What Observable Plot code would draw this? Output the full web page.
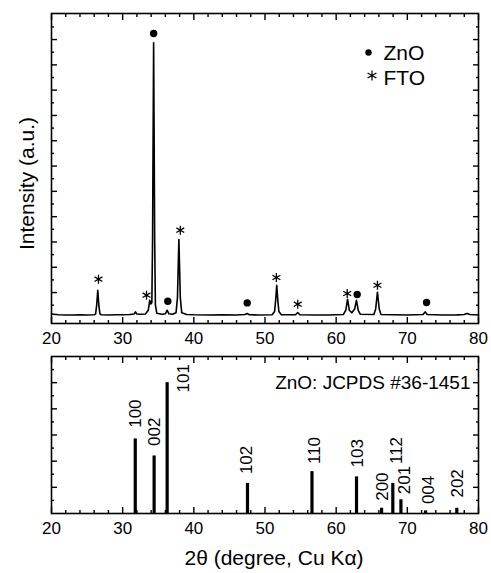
<!DOCTYPE html>
<html><head><meta charset="utf-8">
<script src="https://cdn.jsdelivr.net/npm/d3@7"></script>
<script src="https://cdn.jsdelivr.net/npm/@observablehq/plot@0.6"></script>
<style>
body{margin:0;background:#fff;}
#chart{width:491px;height:573px;}
#chart svg{display:block;}
</style></head><body><div id="chart"></div>
<script>
// ---- XRD pattern (top panel) ----
const twoTheta = [20,21,22,23,24,25,26,26.2,26.35,26.5,26.65,26.8,27,28,29,30,31,31.6,31.8,32.0,32.5,33.2,33.6,33.8,33.95,34.1,34.2,34.35,34.5,34.6,34.8,35.5,36.0,36.25,36.5,37.0,37.5,37.7,37.9,38.1,38.3,39,40,42,44,46,47.2,47.5,47.8,49,51,51.35,51.5,51.65,51.8,51.95,52.3,54.3,54.6,54.9,57,59,61,61.35,61.6,61.85,62.2,62.6,62.85,63.1,63.4,65.3,65.55,65.8,66.05,66.3,68,70,72.2,72.5,72.8,75,77,78.0,78.4,78.8,80];
const counts   = [150,125,115,110,118,112,120,160,500,1093,500,160,125,115,120,125,130,150,235,150,140,150,300,698,550,600,3000,10869,3000,500,180,140,160,302,160,140,200,800,3097,800,200,130,120,115,118,115,130,172,125,115,120,250,700,1291,700,250,120,120,211,120,115,115,130,300,737,300,200,350,698,300,140,130,350,1014,350,130,120,115,130,235,130,115,118,130,172,130,110];

// peak markers
const znoMarkX = [34.35,36.34,47.5,62.95,72.7];
const znoMarkY = [11240,658,591,923,607];
const ftoMarkX = [26.6,33.35,38.1,51.6,54.6,61.55,65.8];
const ftoMarkY = [1528,895,3465,1595,540,962,1290];

// ---- ZnO JCPDS #36-1451 reference lines (bottom panel) ----
const hkl       = ["100","002","101","102","110","103","200","112","201","004","202"];
const refPos    = [31.77,34.42,36.25,47.54,56.60,62.86,66.38,67.96,69.10,72.56,76.95];
const refInt    = [57,44,100,23,32,28,4,23,10.5,2,4];
const labelPosX = [31.77,34.42,38.6,47.45,57.0,62.95,66.45,68.55,69.6,73.05,77.0];
const labelPosY = [65.5,51.6,92.5,30.1,37.8,35.2,9.7,37.8,14.8,7.2,12.2];

// ---- axes ----
const xMajor = [20,30,40,50,60,70,80];
const xLabels = ["20","30","40","50","60","70","80"];
const xMinor = [22,24,26,28,32,34,36,38,42,44,46,48,52,54,56,58,62,64,66,68,72,74,76,78];
const yTopMajor = [1000,2000,3000,4000,5000,6000,7000,8000,9000,10000,11000];
const yTopMinor = [500,1500,2500,3500,4500,5500,6500,7500,8500,9500,10500,11500];
const yBotMajor = [20,40,60,80,100];
const yBotMinor = [10,30,50,70,90,110];

const font = '"Liberation Sans", Arial, Helvetica, sans-serif';
const W = 491;

const trace = twoTheta.map((t, i) => ({t, c: counts[i]}));
const zno = znoMarkX.map((x, i) => ({x, y: znoMarkY[i]}));
const fto = ftoMarkX.map((x, i) => ({x, y: ftoMarkY[i]}));
const refs = hkl.map((h, i) => ({h, x: refPos[i], y: refInt[i], lx: labelPosX[i], ly: labelPosY[i]}));

// inward ticks: draw outward-pointing ticks, shifted back inside by their length
function inTicks(axis, anchor, ticks, len) {
  const shift = anchor === "bottom" ? {dy: -len} : anchor === "top" ? {dy: len}
              : anchor === "left" ? {dx: len} : {dx: -len};
  return axis({anchor, ticks, tickSize: len, fill: "none", label: null, strokeWidth: 1.4, ...shift});
}

function tickMarks(xMaj, xMin, yMaj, yMin) {
  return [
    inTicks(Plot.axisX, "bottom", xMaj, 6),
    inTicks(Plot.axisX, "bottom", xMin, 3),
    inTicks(Plot.axisX, "top", xMaj, 6),
    inTicks(Plot.axisX, "top", xMin, 3),
    inTicks(Plot.axisY, "left", yMaj, 6),
    inTicks(Plot.axisY, "left", yMin, 3),
    inTicks(Plot.axisY, "right", yMaj, 6),
    inTicks(Plot.axisY, "right", yMin, 3),
    Plot.axisX({anchor: "bottom", ticks: xMaj, tickFormat: (d) => xLabels[xMaj.indexOf(d)], tickSize: 0, tickPadding: 8, fontSize: 17, label: null, fill: "black"}),
    Plot.frame({stroke: "black", strokeWidth: 1.6})
  ];
}

const topPlot = Plot.plot({
  width: W, height: 350,
  marginLeft: 51, marginRight: 13, marginTop: 13, marginBottom: 27,
  style: {fontFamily: font, background: "white", color: "black", overflow: "visible"},
  x: {domain: [20, 80]},
  y: {domain: [-223, 12030]},
  marks: [
    ...tickMarks(xMajor, xMinor, yTopMajor, yTopMinor),
    Plot.line(trace, {x: "t", y: "c", stroke: "black", strokeWidth: 1.6}),
    Plot.dot(zno, {x: "x", y: "y", r: 3.7, fill: "black"}),
    Plot.dot(fto, {x: "x", y: "y", r: 4.3, symbol: "asterisk", stroke: "black", strokeWidth: 1.3}),
    Plot.dot([0], {frameAnchor: "top-right", dx: -110, dy: 39, r: 3.2, fill: "black"}),
    Plot.dot([0], {frameAnchor: "top-right", dx: -106.5, dy: 62, r: 4.8, symbol: "asterisk", stroke: "black", strokeWidth: 1.2}),
    Plot.text(["ZnO"], {frameAnchor: "top-right", dx: -95, dy: 39.5, text: (d) => d, textAnchor: "start", lineAnchor: "middle", fontSize: 21}),
    Plot.text(["FTO"], {frameAnchor: "top-right", dx: -95, dy: 64.5, text: (d) => d, textAnchor: "start", lineAnchor: "middle", fontSize: 21}),
    Plot.text(["Intensity (a.u.)"], {frameAnchor: "left", dx: -24, dy: 15, rotate: -90, text: (d) => d, textAnchor: "middle", lineAnchor: "middle", fontSize: 21})
  ]
});

const bottomPlot = Plot.plot({
  width: W, height: 223,
  marginLeft: 51, marginRight: 13, marginTop: 6, marginBottom: 60,
  style: {fontFamily: font, background: "white", color: "black", overflow: "visible"},
  x: {domain: [20, 80]},
  y: {domain: [0, 120]},
  marks: [
    ...tickMarks(xMajor, xMinor, yBotMajor, yBotMinor),
    Plot.ruleX(refs, {x: "x", y1: 0, y2: "y", stroke: "black", strokeWidth: 3.2}),
    Plot.text(refs, {x: "lx", y: "ly", text: "h", rotate: -90, textAnchor: "start", lineAnchor: "middle", fontSize: 17}),
    Plot.text(["ZnO: JCPDS #36-1451"], {frameAnchor: "top-right", dx: -8, dy: 26, text: (d) => d, textAnchor: "end", lineAnchor: "middle", fontSize: 19}),
    Plot.text(["2θ (degree, Cu Kα)"], {frameAnchor: "bottom", dx: 9, dy: 45, text: (d) => d, textAnchor: "middle", lineAnchor: "middle", fontSize: 21})
  ]
});

document.getElementById("chart").append(topPlot, bottomPlot);
</script>
</body></html>
